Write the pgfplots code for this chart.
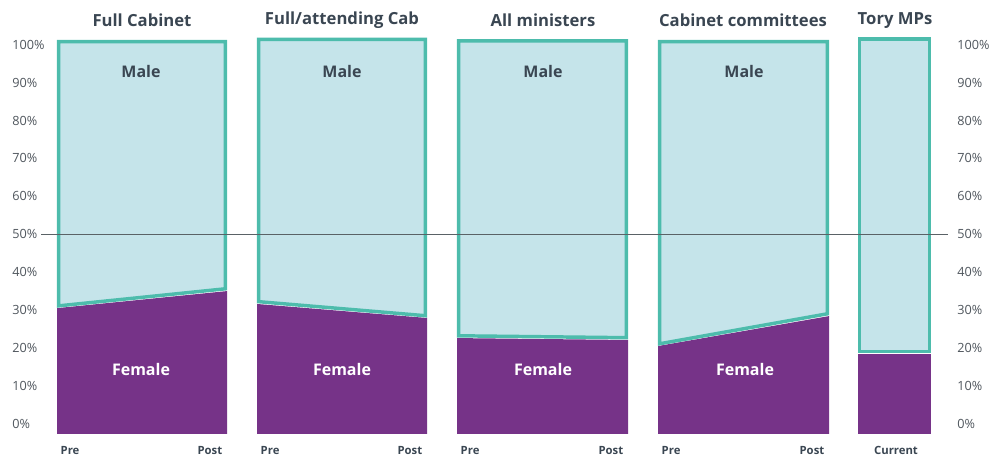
\documentclass[border=0pt]{standalone}
\usepackage{pgfplots}
\pgfplotsset{compat=1.18}
\usepackage{fontspec}
\setmainfont{Open Sans}

\definecolor{fem}{HTML}{763388}
\definecolor{mal}{HTML}{C5E4EA}
\definecolor{edge}{HTML}{4DBCAC}
\definecolor{ink}{HTML}{3A4652}
\definecolor{tick}{HTML}{4F565D}
\definecolor{refline}{HTML}{5A6266}

% x runs in pixels of the reference, y in percent
\pgfplotsset{
  panel/.style={
    x=0.75pt, y=2.8425pt,
    xmin=0, xmax=994, ymin=-9.23, ymax=111.6,
    axis x line=none,
    y axis line style={draw=none},
    ytick style={draw=none},
    ytick={0,10,...,100},
    yticklabels={0\%,10\%,20\%,30\%,40\%,50\%,60\%,70\%,80\%,90\%,100\%},
    yticklabel style={font=\fontsize{9.5}{11}\selectfont, text=tick, anchor=west, inner sep=0pt, yshift=-0.6pt},
    clip=false,
  },
  fem/.style={fill=fem, draw=none},
  mal/.style={fill=mal, draw=edge, line width=2.6pt, line join=miter},
}
\newcommand{\ttl}[2]{\node[font=\fontsize{12.5}{14}\selectfont\bfseries, text=ink] at (axis cs:#1,106.3) {#2};}
\newcommand{\lab}[2]{\node[font=\fontsize{12}{14}\selectfont\bfseries, text=ink] at (axis cs:#1,92.8) {Male};
  \node[font=\fontsize{12}{14}\selectfont\bfseries, text=white] at (axis cs:#2,14.2) {Female};}

\begin{document}
\begin{tikzpicture}
\begin{axis}[panel, axis y line*=left, yticklabel style={xshift=9pt}]
% Full Cabinet
\addplot[fem] coordinates {(57,-2.9) (57,30.3) (227,34.8) (227,-2.9)} -- cycle;
\addplot[mal] coordinates {(58.7,30.9) (58.7,100.6) (225.3,100.6) (225.3,35.4)} -- cycle;
% Full/attending Cab
\addplot[fem] coordinates {(257,-2.9) (257,31.4) (427,27.7) (427,-2.9)} -- cycle;
\addplot[mal] coordinates {(258.7,32.0) (258.7,101.2) (425.3,101.2) (425.3,28.3)} -- cycle;
% All ministers
\addplot[fem] coordinates {(457,-2.9) (457,22.4) (628,21.9) (628,-2.9)} -- cycle;
\addplot[mal] coordinates {(458.7,23.0) (458.7,100.8) (626.3,100.8) (626.3,22.5)} -- cycle;
% Cabinet committees
\addplot[fem] coordinates {(658,-2.9) (658,20.3) (829,28.2) (829,-2.9)} -- cycle;
\addplot[mal] coordinates {(659.7,20.9) (659.7,100.6) (827.3,100.6) (827.3,28.8)} -- cycle;
% Tory MPs
\addplot[fem] coordinates {(858,-2.9) (858,18.3) (931,18.3) (931,-2.9)} -- cycle;
\addplot[mal] coordinates {(859.7,18.9) (859.7,101.3) (929.3,101.3) (929.3,18.9)} -- cycle;
% 50% reference line
\addplot[refline, line width=0.8pt] coordinates {(41,49.8) (948,49.8)};

\ttl{142}{Full Cabinet}
\ttl{342}{Full/attending Cab}
\ttl{543}{All ministers}
\ttl{743}{Cabinet committees}
\ttl{895}{Tory MPs}
\lab{141}{141}
\lab{342}{342}
\lab{543}{543}
\lab{744}{745}

\begin{scope}[every node/.style={font=\fontsize{8.5}{10}\selectfont\bfseries, text=ink}]
\node[anchor=west] at (axis cs:56,-7.2) {Pre};
\node[anchor=east] at (axis cs:227,-7.2) {Post};
\node[anchor=west] at (axis cs:256,-7.2) {Pre};
\node[anchor=east] at (axis cs:427,-7.2) {Post};
\node[anchor=west] at (axis cs:456,-7.2) {Pre};
\node[anchor=east] at (axis cs:628,-7.2) {Post};
\node[anchor=west] at (axis cs:657,-7.2) {Pre};
\node[anchor=east] at (axis cs:829,-7.2) {Post};
\node at (axis cs:896,-7.2) {Current};
\end{scope}
\end{axis}
\begin{axis}[panel, axis y line*=right, yticklabel style={xshift=-27.75pt}]
\end{axis}
\end{tikzpicture}
\end{document}
